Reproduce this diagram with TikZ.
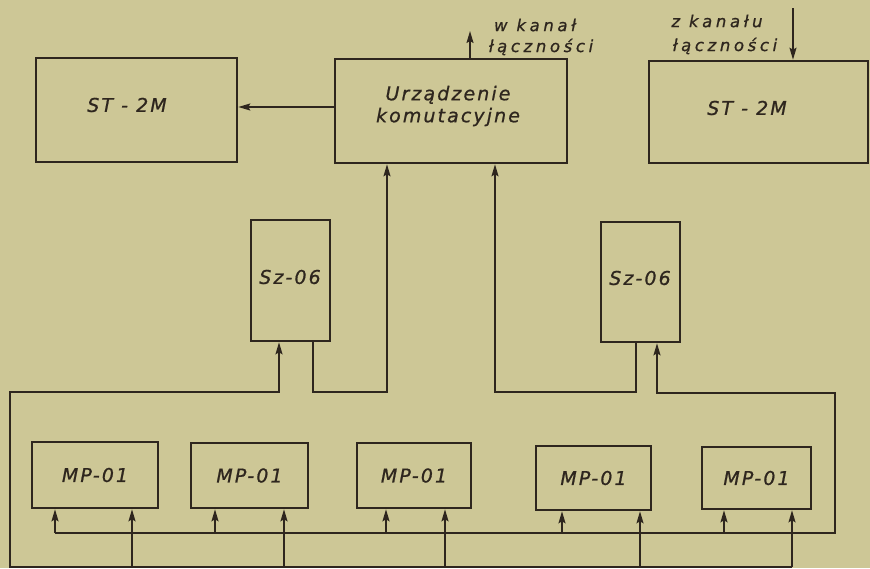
\documentclass[tikz,border=0pt]{standalone}
\usepackage{fontspec}
\setmainfont{DejaVu Sans}
\newfontfamily\stencil{DejaVu Sans}[LetterSpace=11,FakeBold=0.8]
\newfontfamily\stencilwide{DejaVu Sans}[LetterSpace=22,FakeBold=0.8]
\usetikzlibrary{arrows.meta}
\definecolor{paper}{RGB}{205,199,150}
\definecolor{ink}{RGB}{46,38,30}
\begin{document}
\begin{tikzpicture}[x=1pt,y=-1pt,
  box/.style={draw=ink,line width=2.6pt,rectangle,inner sep=0pt},
  lbl/.style={text=ink,inner sep=0pt,align=center,
    font=\stencil\itshape\fontsize{19}{22}\selectfont},
  wire/.style={draw=ink,line width=1.6pt},
  arr/.style={wire,-{Stealth[length=12pt,width=7pt,inset=2pt]}},
  note/.style={text=ink,inner sep=0pt,
    font=\stencilwide\itshape\fontsize{16.5}{18}\selectfont}]
% paper
\fill[paper] (0,0) rectangle (870,568);
\useasboundingbox (0,0) rectangle (870,568);

% upper row
\node[box,minimum width=201pt,minimum height=104pt] (st1) at (136.5,110) {};
\node[box,minimum width=232pt,minimum height=104pt] (urz) at (451,111) {};
\node[box,minimum width=219pt,minimum height=102pt] (st2) at (758.5,112) {};
\node[lbl] (st1t) at (127,105) {ST - 2M};
\node[lbl] (urzt) at (448,106) {Urządzenie\\komutacyjne};
\node[lbl] (st2t) at (747,108) {ST - 2M};

% channel labels
\node[note] (wk1) at (535,25) {w kanał};
\node[note] (wk2) at (541,47) {łączności};
\node[note] (zk1) at (717,21) {z kanału};
\node[note] (zk2) at (725,46) {łączności};
\coordinate (wout) at (470,31);
\coordinate (zin) at (793,8);

% Sz-06 units
\node[box,minimum width=79pt,minimum height=121pt] (sz1) at (290.5,280.5) {};
\node[box,minimum width=79pt,minimum height=120pt] (sz2) at (640.5,282) {};
\node[lbl] (sz1t) at (290,277) {Sz-06};
\node[lbl] (sz2t) at (640,278) {Sz-06};

% MP-01 units
\node[box,minimum width=126pt,minimum height=66pt] (mp1) at (95,475) {};
\node[box,minimum width=117pt,minimum height=65pt] (mp2) at (249.5,475.5) {};
\node[box,minimum width=114pt,minimum height=65pt] (mp3) at (414,475.5) {};
\node[box,minimum width=115pt,minimum height=64pt] (mp4) at (593.5,478) {};
\node[box,minimum width=109pt,minimum height=62pt] (mp5) at (756.5,478) {};
\foreach \n in {mp1,mp2,mp3,mp4,mp5}
  \node[lbl] (\n t) at (\n) {MP-01};

% junction points of the buses
\coordinate (ja) at (387,392);
\coordinate (jb) at (495,392);
\coordinate (busAL) at (55,533);
\coordinate (busAR) at (835,533);
\coordinate (busBL) at (10,567);
\coordinate (busBR) at (792,567);

% top connections
\draw[arr] ([yshift=4pt]urz.west) -- ([yshift=4pt]urz.west -| st1.east);
\draw[arr] (urz.north -| wout) -- (wout);
\draw[arr] (zin) -- (zin |- st2.north);

% Sz-06 outputs to the switching unit
\draw[arr] ([xshift=22.5pt]sz1.south) |- (ja) -- (ja |- urz.south);
\draw[arr] ([xshift=-4.5pt]sz2.south) |- (jb) -- (jb |- urz.south);

% bus A: left inputs of MP-01 and input of the right Sz-06
\draw[arr] (busAL) -- (busAR) -- (busAR |- 0,393) -- (657,393) -- (657,0 |- sz2.south);
\foreach \n/\x in {mp1/55,mp2/215,mp3/386,mp4/562,mp5/724}
  \draw[arr] (\x,533) -- (\x,0 |- \n.south);

% bus B: right inputs of MP-01 and input of the left Sz-06
\draw[arr] (busBR) -- (busBL) -- (10,392) -- (279,392) -- (279,0 |- sz1.south);
\foreach \n/\x in {mp1/132,mp2/284,mp3/445,mp4/640,mp5/792}
  \draw[arr] (\x,567) -- (\x,0 |- \n.south);
\end{tikzpicture}
\end{document}
